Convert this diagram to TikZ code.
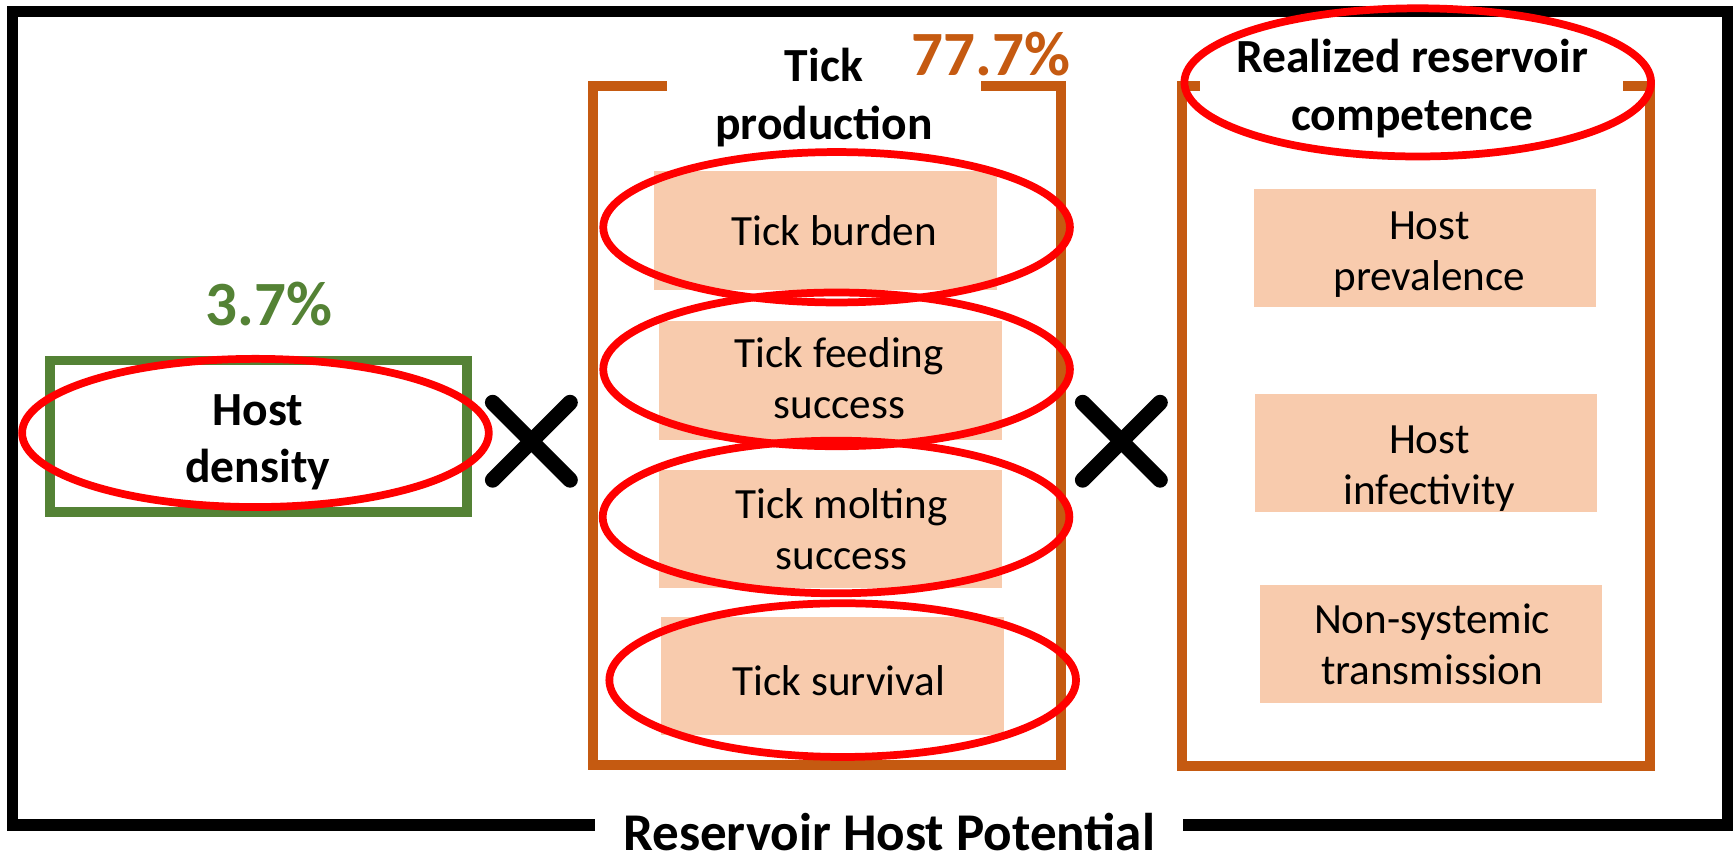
\documentclass[tikz,border=0pt]{standalone}
\usepackage{fontspec}
\setmainfont{Carlito}
\usetikzlibrary{shapes.geometric}
\definecolor{hgreen}{RGB}{84,130,53}
\definecolor{hbrown}{RGB}{197,90,17}
\definecolor{hpink}{RGB}{248,203,173}
\begin{document}
\begin{tikzpicture}[x=1pt,y=-1pt,
  pinkbox/.style={fill=hpink, draw=none, minimum width=310pt, minimum height=107pt, inner sep=0pt},
  boxtext/.style={inner sep=0pt, align=center, font=\fontsize{39}{46}\selectfont},
  ring/.style={ellipse, draw=red, line width=7pt, inner sep=0pt, minimum width=422pt, minimum height=137pt},
  boldlbl/.style={font=\fontsize{43}{52}\selectfont\bfseries, align=center, inner sep=0pt},
  pct/.style={font=\fontsize{57}{66}\selectfont\bfseries, inner sep=0pt, anchor=base},
  frameline/.style={draw=black, line width=10pt},
  bracketline/.style={draw=hbrown, line width=9pt},
  greenline/.style={draw=hgreen, line width=9pt},
  cross/.style={draw=black, line width=14pt, line cap=round}]
\useasboundingbox (0,0) rectangle (1568,779);
\fill[white] (0,0) rectangle (1568,779);

% title and outer frame
\node[anchor=base, font=\fontsize{48}{56}\selectfont\bfseries, inner sep=0pt] (title) at (804,769) {Reservoir Host Potential};
\draw[frameline] (538,746) -- (11,746) -- (11,10) -- (1562,10) -- (1562,746) -- (1070,746);

% host density
\draw[greenline] (45,326) rectangle (422,463);
\node[boldlbl] (hd) at (233,400) {Host\\density};
\node[pct, text=hgreen] (p1) at (243,294) {3.7\%};

% pink boxes column 2
\node[pinkbox] (tb) at (746.5,208.5) {};
\node[pinkbox] (tf) at (751,344) {};
\node[pinkbox] (tm) at (751,478.5) {};
\node[pinkbox] (ts) at (752.5,611.5) {};
\node[boxtext] (tbt) at ([shift={(8,0)}]tb) {Tick burden};
\node[boxtext] (tft) at ([shift={(8,-2)}]tf) {Tick feeding\\success};
\node[boxtext] (tmt) at ([shift={(10,0)}]tm) {Tick molting\\success};
\node[boxtext] (tst) at ([shift={(6,4)}]ts) {Tick survival};

% pink boxes column 3
\node[pinkbox] (hp) at (1288.5,224.5) {};
\node[pinkbox] (hi) at (1289.5,409.5) {};
\node[pinkbox] (ns) at (1294,582.5) {};
\node[boxtext] (hpt) at ([shift={(4,5.5)}]hp) {Host\\prevalence};
\node[boxtext] (hit) at ([shift={(3,14.5)}]hi) {Host\\infectivity};
\node[boxtext] (nst) at ([shift={(1,0)}]ns) {Non-systemic\\transmission};

% brackets
\draw[bracketline] (603,78) -- (536,78) -- (536,692) -- (959,692) -- (959,78) -- (887,78);
\draw[bracketline] (1085,78) -- (1069,78) -- (1069,693) -- (1492,693) -- (1492,78) -- (1468,78);

% headings
\node[boldlbl] (tp) at (745,88) {Tick\\production};
\node[pct, text=hbrown] (p2) at (896,68) {77.7\%};
\node[boldlbl] (rc) at (1277,80) {Realized reservoir\\competence};

% crosses
\coordinate (x1) at (480.5,399);
\coordinate (x2) at (1014,399);
\draw[cross] ([shift={(-35,-35)}]x1) -- ([shift={(35,35)}]x1);
\draw[cross] ([shift={(-35,35)}]x1) -- ([shift={(35,-35)}]x1);
\draw[cross] ([shift={(-35,-35)}]x2) -- ([shift={(35,35)}]x2);
\draw[cross] ([shift={(-35,35)}]x2) -- ([shift={(35,-35)}]x2);

% red ellipses
\node[ring, minimum height=134pt] (e0) at (231,391.5) {};
\node[ring, minimum height=136pt] (e1) at (756.5,205.5) {};
\node[ring, minimum height=139pt] (e2) at (756.5,334) {};
\node[ring, minimum height=138pt] (e3) at (756,467.5) {};
\node[ring, minimum height=139pt] (e4) at (762,615) {};
\node[ring, minimum height=134pt] (e5) at (1282,74.5) {};
\end{tikzpicture}
\end{document}
